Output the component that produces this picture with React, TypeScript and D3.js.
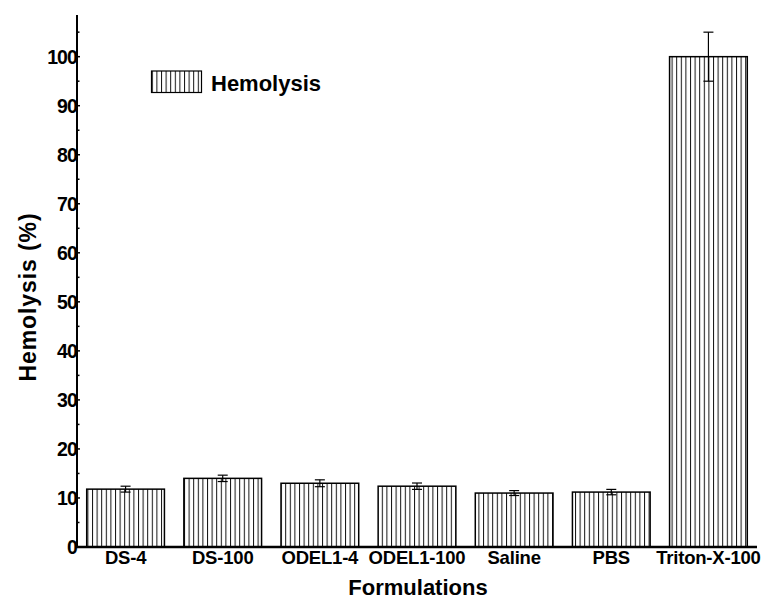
import React from "react";
import * as d3 from "d3";

const categories = ["DS-4", "DS-100", "ODEL1-4", "ODEL1-100", "Saline", "PBS", "Triton-X-100"];
const values = [11.8, 14.0, 13.0, 12.4, 11.0, 11.2, 100.0];
const errors = [0.6, 0.65, 0.7, 0.65, 0.5, 0.55, 5.0];
const yTicks = [0, 10, 20, 30, 40, 50, 60, 70, 80, 90, 100];
const yMinorTicks = [5, 15, 25, 35, 45, 55, 65, 75, 85, 95, 105];
const seriesName = "Hemolysis";
const xTitle = "Formulations";
const yTitle = "Hemolysis (%)";

const W = 763;
const H = 600;
const FONT = "'Liberation Sans', Arial, sans-serif";

export default function App() {
  const x = d3.scaleBand<string>().domain(categories).range([77, 757]).paddingInner(0.2).paddingOuter(0.1);
  const y = d3.scaleLinear().domain([0, 108.5]).range([547, 15]);
  const y0 = y(0);
  const capW = 10;

  return (
    <svg width={W} height={H} style={{ position: "absolute", left: 0, top: 0 }} fontFamily={FONT}>
      <defs>
        <pattern id="vstripes" patternUnits="userSpaceOnUse" width={4.6} height={10}>
          <line x1={0.5} y1={0} x2={0.5} y2={10} stroke="#111" strokeWidth={1} />
        </pattern>
      </defs>
      <rect x={0} y={0} width={W} height={H} fill="#fff" />

      {categories.map((c, i) => {
        const bx = x(c)!;
        const bw = x.bandwidth();
        const top = y(values[i]);
        return (
          <g key={c}>
            <rect x={bx} y={top} width={bw} height={y0 - top} fill="url(#vstripes)" stroke="#000" strokeWidth={1.5} />
          </g>
        );
      })}

      {categories.map((c, i) => {
        const cx = x(c)! + x.bandwidth() / 2;
        const hi = y(values[i] + errors[i]);
        const lo = y(values[i] - errors[i]);
        return (
          <g key={"e" + c} stroke="#000" strokeWidth={1.2}>
            <line x1={cx} x2={cx} y1={hi} y2={lo} />
            <line x1={cx - capW / 2} x2={cx + capW / 2} y1={hi} y2={hi} />
            <line x1={cx - capW / 2} x2={cx + capW / 2} y1={lo} y2={lo} />
          </g>
        );
      })}

      {/* Y axis */}
      <line x1={77} x2={77} y1={15} y2={548} stroke="#000" strokeWidth={2} />
      {yTicks.map((t) => (
        <g key={"yt" + t}>
          <line x1={77} x2={80} y1={y(t)} y2={y(t)} stroke="#000" strokeWidth={1.5} />
          <text x={77} y={y(t) + 7} textAnchor="end" fontSize={19.5} fontWeight="bold" letterSpacing={-0.9}>
            {t}
          </text>
        </g>
      ))}
      {yMinorTicks.map((t) => (
        <line key={"ym" + t} x1={77} x2={79.5} y1={y(t)} y2={y(t)} stroke="#000" strokeWidth={1.5} />
      ))}

      {/* X axis */}
      <line x1={76} x2={757} y1={547} y2={547} stroke="#000" strokeWidth={2.5} />
      {categories.map((c) => (
        <text
          key={"xl" + c}
          x={x(c)! + x.bandwidth() / 2}
          y={563.5}
          textAnchor="middle"
          fontSize={18.5}
          fontWeight="bold"
          letterSpacing={-0.2}
        >
          {c}
        </text>
      ))}

      {/* Axis titles */}
      <text x={418} y={595} textAnchor="middle" fontSize={22} fontWeight="bold">
        {xTitle}
      </text>
      <text
        transform={`translate(36, 297) rotate(-90)`}
        textAnchor="middle"
        fontSize={23}
        fontWeight="bold"
        letterSpacing={0.9}
      >
        {yTitle}
      </text>

      {/* Legend */}
      <rect x={151.5} y={71} width={50} height={21.5} fill="url(#vstripes)" stroke="#000" strokeWidth={1.2} />
      <text x={211} y={91} fontSize={22} fontWeight="bold">
        {seriesName}
      </text>
    </svg>
  );
}
